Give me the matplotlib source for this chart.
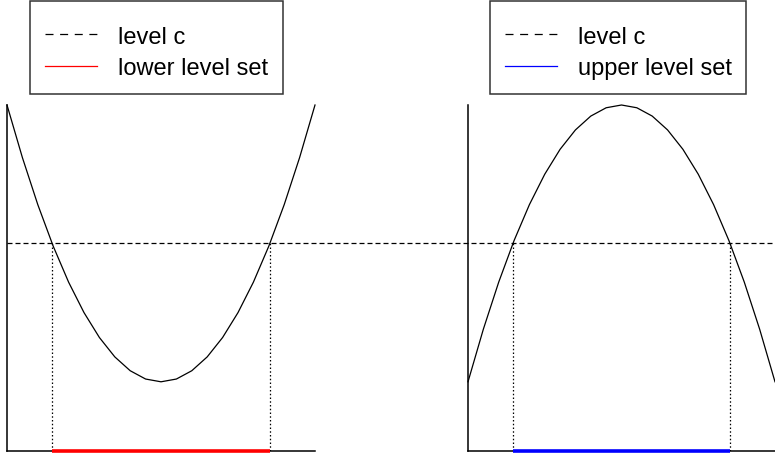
import matplotlib.pyplot as plt
from matplotlib.lines import Line2D
from matplotlib.path import Path

# curve samples (same x grid for both panels)
x = [0, 0.5, 1, 1.5, 2, 2.5, 3, 3.5, 4, 4.5, 5, 5.5, 6, 6.5, 7, 7.5, 8, 8.5, 9, 9.5, 10]
y_convex = [10, 8.48, 7.12, 5.92, 4.88, 4.0, 3.28, 2.72, 2.32, 2.08, 2.0,
            2.08, 2.32, 2.72, 3.28, 4.0, 4.88, 5.92, 7.12, 8.48, 10]
y_concave = [2.0, 3.52, 4.88, 6.08, 7.12, 8.0, 8.72, 9.28, 9.68, 9.92, 10,
             9.92, 9.68, 9.28, 8.72, 8.0, 7.12, 6.08, 4.88, 3.52, 2.0]
level_c = 6.0
lower_set = [1.46, 8.54]
upper_set = [1.46, 8.54]

W, H = 775, 456
fig = plt.figure(figsize=(W / 100, H / 100), dpi=100)
plt.rcParams['font.family'] = ['Liberation Sans', 'DejaVu Sans']

ax1 = fig.add_axes([7 / W, 4 / H, 308 / W, 346 / H])
ax2 = fig.add_axes([468 / W, 4 / H, 307 / W, 346 / H])
ax2.patch.set_visible(False)

def panel(ax, y, seg, color):
    ax.plot(x, y, color='black', lw=0.9, clip_on=False)
    for xs in seg:
        ax.plot([xs, xs], [0, level_c], color='black', lw=0.9,
                linestyle=(0, (1.2, 1.8)))
    ax.plot(seg, [0, 0], color=color, lw=2.6, solid_capstyle='butt', zorder=5, clip_on=False)
    ax.set_xlim(0, 10)
    ax.set_ylim(0, 10)
    ax.set_xticks([])
    ax.set_yticks([])
    for s in ['top', 'right']:
        ax.spines[s].set_visible(False)
    for s in ['left', 'bottom']:
        ax.spines[s].set_linewidth(1.1)

panel(ax1, y_convex, lower_set, 'red')
panel(ax2, y_concave, upper_set, 'blue')

# level c runs across the whole figure
ax1.axhline(level_c, xmin=0, xmax=768 / 308, color='black', lw=0.9,
            linestyle=(0, (4, 2.4)), clip_on=False, zorder=6)

TOP_PAD = 10  # extra padding above the legend rows, px

def tall_box(x0, y0, width, height, mutation_size):
    return Path([(x0, y0), (x0 + width, y0),
                 (x0 + width, y0 + height + TOP_PAD), (x0, y0 + height + TOP_PAD),
                 (x0, y0)], closed=True)

def legend(xpx, label, color):
    handles = [Line2D([], [], color='black', lw=0.9, linestyle=(0, (6.4, 5.3))),
               Line2D([], [], color=color, lw=0.9)]
    leg = fig.legend(handles, ['level c', label], loc='upper left',
                     bbox_to_anchor=(xpx / W, 1 - (2 + TOP_PAD) / H), fontsize=17,
                     frameon=True, fancybox=False, edgecolor='black',
                     handlelength=2.2, handletextpad=0.9, borderpad=0.62,
                     labelspacing=0.4, borderaxespad=0)
    leg.get_frame().set_linewidth(1.1)
    leg.get_frame().set_boxstyle(tall_box)

legend(30, 'lower level set', 'red')
legend(490, 'upper level set', 'blue')

fig.savefig('out.png', dpi=100)
